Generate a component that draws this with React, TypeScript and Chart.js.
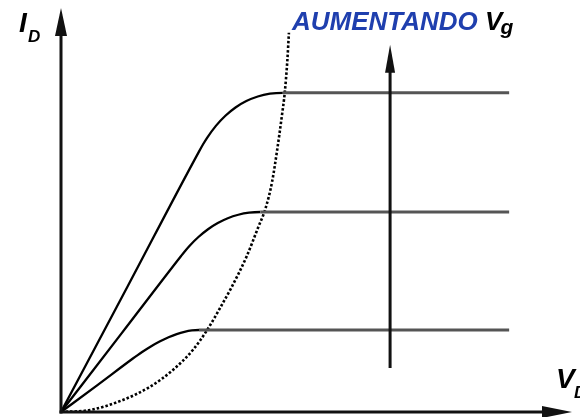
import React, { useEffect, useRef } from "react";
import { Chart, registerables } from "chart.js";

Chart.register(...registerables);

// Characteristic curves I_D(V_D) for three gate voltages (abstract units 0..100)
const curveHigh: [number, number][] = [
  [0, 0], [13, 31.3], [27, 65.1], [27.78, 66.88], [28.59, 68.55], [30.31, 71.53], [32.17, 74.06],
  [34.15, 76.13], [36.27, 77.73], [38.51, 78.88], [40.89, 79.57], [43.4, 79.8], [87.7, 79.8],
];
const curveMid: [number, number][] = [
  [0, 0], [12, 19.9], [23.5, 39.0], [24.33, 40.33], [25.18, 41.58], [26.95, 43.81], [28.77, 45.7],
  [30.68, 47.25], [32.64, 48.45], [34.7, 49.31], [36.81, 49.83], [39, 50], [87.7, 50],
];
const curveLow: [number, number][] = [
  [0, 0], [7, 6.6], [14, 13.3], [14.94, 14.17], [15.87, 14.99], [17.66, 16.45], [19.39, 17.69],
  [21.05, 18.7], [22.64, 19.49], [24.16, 20.05], [25.62, 20.39], [27, 20.5], [87.7, 20.5],
];
// Saturation boundary (dotted)
const saturationBoundary: [number, number][] = [
  [0, 0], [5.7, 0.5], [12.1, 3], [17.4, 6.3], [21.9, 10.5], [25.8, 15.5], [28.6, 20.5], [31.7, 27.3],
  [33.3, 31], [36.3, 38.8], [38.6, 46.2], [40, 50.8], [41.3, 57.5], [42.3, 65.5], [43.2, 73.8],
  [43.8, 80], [44.3, 88], [44.6, 94.8],
];
// "Increasing V_g" arrow: x position, start and end (data units)
const gateArrowX = 64.4;
const gateArrowFrom = 11;
const gateArrowTo = 91.8;

const labelIncreasing = "AUMENTANDO";

const FONT = "'Liberation Sans', Arial, sans-serif";

const toPts = (a: [number, number][]) => a.map(([x, y]) => ({ x, y }));

const overlay = {
  id: "overlay",
  afterDatasetsDraw(chart: any) {
    const { ctx } = chart;
    const xs = chart.scales.x;
    const ys = chart.scales.y;
    const ox = xs.getPixelForValue(0);
    const oy = ys.getPixelForValue(0);
    ctx.save();
    ctx.strokeStyle = "#111";
    ctx.fillStyle = "#111";
    ctx.lineWidth = 3;
    // y axis
    ctx.beginPath();
    ctx.moveTo(ox, oy + 1.5);
    ctx.lineTo(ox, 34);
    ctx.stroke();
    ctx.beginPath();
    ctx.moveTo(ox, 8);
    ctx.lineTo(ox - 6, 36);
    ctx.lineTo(ox + 6, 36);
    ctx.closePath();
    ctx.fill();
    // x axis
    ctx.beginPath();
    ctx.moveTo(ox - 1.5, oy);
    ctx.lineTo(545, oy);
    ctx.stroke();
    ctx.beginPath();
    ctx.moveTo(572, oy);
    ctx.lineTo(542, oy - 6);
    ctx.lineTo(542, oy + 6);
    ctx.closePath();
    ctx.fill();
    // gate arrow
    const gx = xs.getPixelForValue(gateArrowX);
    const gy0 = ys.getPixelForValue(gateArrowFrom);
    const gy1 = ys.getPixelForValue(gateArrowTo);
    ctx.beginPath();
    ctx.moveTo(gx, gy0);
    ctx.lineTo(gx, gy1 + 26);
    ctx.stroke();
    ctx.beginPath();
    ctx.moveTo(gx, gy1);
    ctx.lineTo(gx - 5, gy1 + 28);
    ctx.lineTo(gx + 5, gy1 + 28);
    ctx.closePath();
    ctx.fill();

    // Labels
    ctx.textBaseline = "alphabetic";
    ctx.textAlign = "left";
    ctx.fillStyle = "#000";
    ctx.font = `italic bold 28px ${FONT}`;
    ctx.fillText("I", 19, 32);
    ctx.font = `italic bold 17px ${FONT}`;
    ctx.fillText("D", 28, 42);

    ctx.font = `italic bold 26px ${FONT}`;
    ctx.fillStyle = "#1f3fae";
    ctx.fillText(labelIncreasing, 292, 30);
    const w = ctx.measureText(labelIncreasing + " ").width;
    ctx.fillStyle = "#000";
    ctx.fillText("V", 292 + w, 30);
    const wv = ctx.measureText("V").width;
    ctx.font = `italic bold 21px ${FONT}`;
    ctx.fillText("g", 292 + w + wv - 2, 34);

    ctx.font = `italic bold 28px ${FONT}`;
    ctx.fillText("V", 556, 388);
    ctx.font = `italic bold 17px ${FONT}`;
    ctx.fillText("D", 574, 398);
    ctx.restore();
  },
};

const flatSeg = (solid: string) => ({
  borderColor: (c: any) => (c.p0.parsed.y === c.p1.parsed.y ? "#555" : solid),
  borderWidth: (c: any) => (c.p0.parsed.y === c.p1.parsed.y ? 3 : 2.3),
});

export default function App() {
  const ref = useRef<HTMLCanvasElement | null>(null);
  useEffect(() => {
    document.body.style.margin = "0";
    if (!ref.current) return;
    const common = {
      showLine: true,
      pointRadius: 0,
      borderColor: "#000",
      borderWidth: 2.3,
      fill: false,
      cubicInterpolationMode: "monotone" as const,
    };
    const chart = new Chart(ref.current, {
      type: "scatter",
      data: {
        datasets: [
          { ...common, data: toPts(curveHigh), segment: flatSeg("#000") },
          { ...common, data: toPts(curveMid), segment: flatSeg("#000") },
          { ...common, data: toPts(curveLow), segment: flatSeg("#000") },
          { ...common, data: toPts(saturationBoundary), borderDash: [2.5, 2], borderWidth: 2.6, borderColor: "#000" },
        ],
      },
      options: {
        animation: false,
        responsive: false,
        devicePixelRatio: 1,
        layout: { padding: { left: 61, right: 8, top: 12, bottom: 5 } },
        plugins: { legend: { display: false }, tooltip: { enabled: false } },
        scales: {
          x: { type: "linear", min: 0, max: 100, display: false },
          y: { type: "linear", min: 0, max: 100, display: false },
        },
      },
      plugins: [overlay],
    });
    return () => chart.destroy();
  }, []);
  return (
    <div style={{ width: 580, height: 417, background: "#fff" }}>
      <canvas ref={ref} width={580} height={417} style={{ display: "block" }} />
    </div>
  );
}
